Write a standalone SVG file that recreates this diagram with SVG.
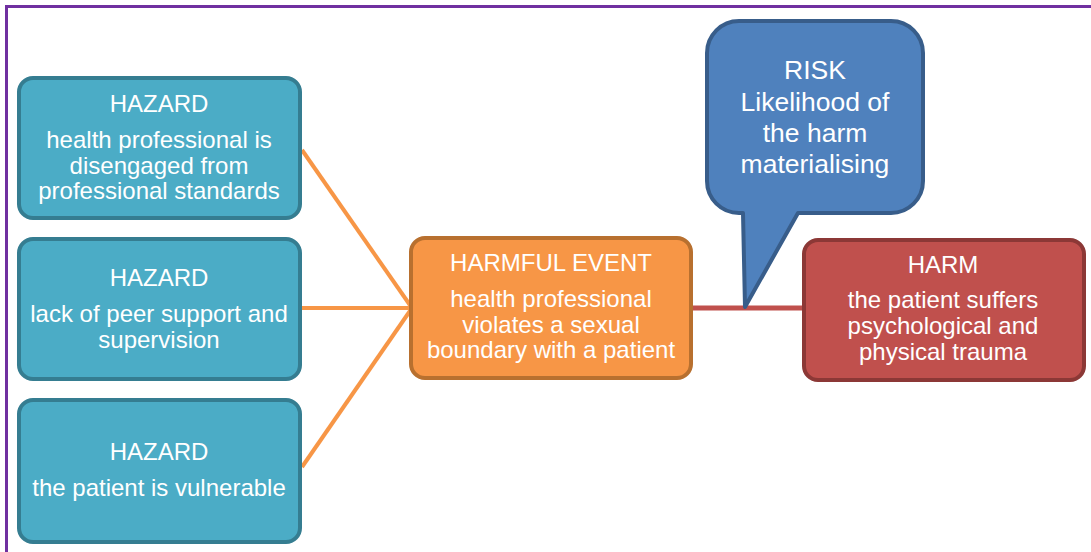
<svg xmlns="http://www.w3.org/2000/svg" width="1091" height="552" viewBox="0 0 1091 552">
  <style>
    .frame { fill: none; stroke: #7030A0; stroke-width: 3; }
    .hazard rect { fill: #4BACC6; stroke: #357D91; stroke-width: 4; }
    .event rect { fill: #F79646; stroke: #B8702F; stroke-width: 4; }
    .harm rect { fill: #C0504D; stroke: #8C3836; stroke-width: 4; }
    .risk path { fill: #4F81BD; stroke: #385D8A; stroke-width: 4; stroke-linejoin: round; }
    text { fill: #FFFFFF; font-family: "Liberation Sans", Arial, sans-serif; font-size: 24px; text-anchor: middle; }
    .risk text { font-size: 26.5px; }
    .link { stroke: #F79646; stroke-width: 4; fill: none; }
    .link-harm { stroke: #C0504D; stroke-width: 5; fill: none; }
  </style>

  <!-- outer frame (top and left edges visible) -->
  <path class="frame" d="M 6.5,560 V 6.5 H 1100"/>

  <!-- connectors -->
  <g id="connectors">
    <line class="link" x1="302" y1="150" x2="412" y2="308"/>
    <line class="link" x1="302" y1="308" x2="412" y2="308"/>
    <line class="link" x1="302" y1="467" x2="412" y2="308"/>
    <line class="link-harm" x1="693" y1="308" x2="802" y2="308"/>
  </g>

  <!-- hazards -->
  <g id="hazard-disengaged" class="hazard">
    <rect x="19" y="78" width="281" height="140" rx="14"/>
    <text x="159" y="112">HAZARD</text>
    <text x="159" y="148">health professional is</text>
    <text x="159" y="174">disengaged from</text>
    <text x="159" y="199">professional standards</text>
  </g>

  <g id="hazard-peer-support" class="hazard">
    <rect x="19" y="239" width="281" height="140" rx="14"/>
    <text x="159" y="286">HAZARD</text>
    <text x="159" y="322">lack of peer support and</text>
    <text x="159" y="348">supervision</text>
  </g>

  <g id="hazard-vulnerable" class="hazard">
    <rect x="19" y="400" width="281" height="142" rx="14"/>
    <text x="159" y="460">HAZARD</text>
    <text x="159" y="496">the patient is vulnerable</text>
  </g>

  <!-- harmful event -->
  <g id="harmful-event" class="event">
    <rect x="411" y="238" width="280" height="140" rx="14"/>
    <text x="551" y="271">HARMFUL EVENT</text>
    <text x="551" y="307">health professional</text>
    <text x="551" y="333">violates a sexual</text>
    <text x="551" y="358">boundary with a patient</text>
  </g>

  <!-- harm -->
  <g id="harm" class="harm">
    <rect x="804" y="240" width="280" height="140" rx="14"/>
    <text x="943" y="273">HARM</text>
    <text x="943" y="308">the patient suffers</text>
    <text x="943" y="334">psychological and</text>
    <text x="943" y="360">physical trauma</text>
  </g>

  <!-- risk callout -->
  <g id="risk" class="risk">
    <path d="M 739,21 H 891 A 32 32 0 0 1 923,53 V 181 A 32 32 0 0 1 891,213 H 798 L 745,307 L 743,213 H 739 A 32 32 0 0 1 707,181 V 53 A 32 32 0 0 1 739,21 Z"/>
    <text x="815" y="79">RISK</text>
    <text x="815" y="111">Likelihood of</text>
    <text x="815" y="142">the harm</text>
    <text x="815" y="173">materialising</text>
  </g>
</svg>
